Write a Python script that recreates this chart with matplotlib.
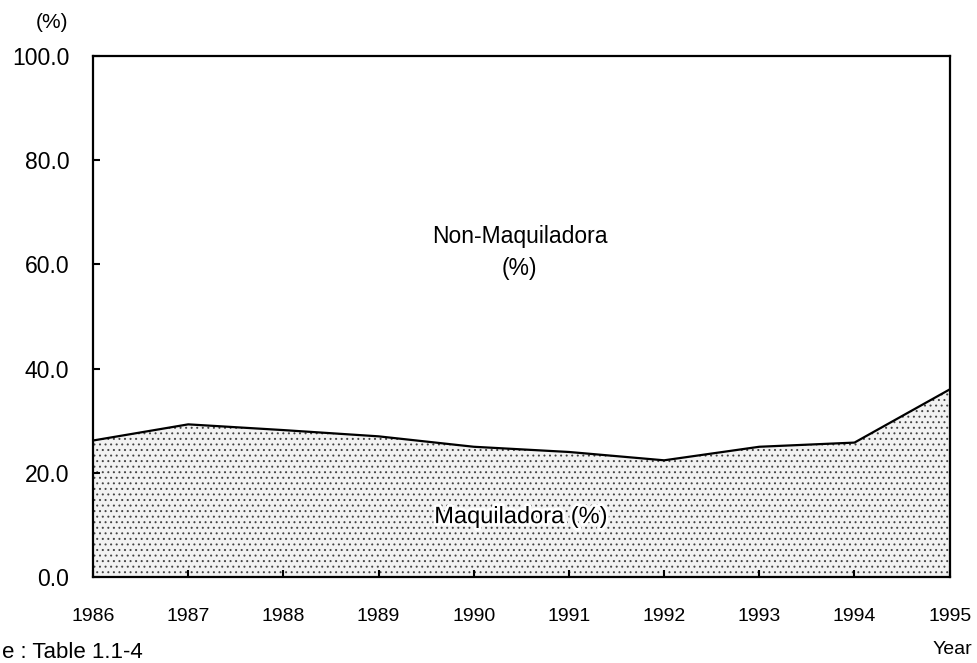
import matplotlib
matplotlib.use("Agg")
import matplotlib.pyplot as plt
import matplotlib.patheffects as pe

years = [1986, 1987, 1988, 1989, 1990, 1991, 1992, 1993, 1994, 1995]
maquiladora = [26.2, 29.3, 28.2, 27.0, 25.0, 24.0, 22.4, 25.0, 25.8, 36.0]
y_ticks = [0, 20, 40, 60, 80, 100]

plt.rcParams["font.family"] = ["Liberation Sans", "DejaVu Sans"]
plt.rcParams["hatch.linewidth"] = 0.7
plt.rcParams["hatch.color"] = "#444444"

fig = plt.figure(figsize=(9.77, 6.63), dpi=100)
ax = fig.add_axes([0.0952, 0.1297, 0.8768, 0.7858])

ax.fill_between(years, 0, maquiladora, facecolor="#f2f2f2", hatch="...", linewidth=0)
ax.plot(years, maquiladora, color="black", linewidth=1.6)

ax.set_xlim(years[0], years[-1])
ax.set_ylim(0, 100)
ax.set_xticks(years)
ax.set_xticklabels([str(y) for y in years], fontsize=14)
ax.set_yticks(y_ticks)
ax.set_yticklabels(["%.1f" % v for v in y_ticks], fontsize=16.5)
ax.tick_params(direction="in", length=5, width=1.5, colors="black")
ax.tick_params(axis="x", pad=22)
ax.tick_params(axis="y", pad=17)
for s in ax.spines.values():
    s.set_linewidth(1.6)

ax.text(1990.48, 62.3, "Non-Maquiladora\n(%)", ha="center", va="center",
        fontsize=16.5, linespacing=1.5)
t = ax.text(1990.5, 11.5, "Maquiladora (%)", ha="center", va="center",
            fontsize=17, fontweight="medium")
t.set_path_effects([pe.withStroke(linewidth=4, foreground="white")])

fig.text(52 / 977, 1 - 23 / 663, "(%)", ha="center", va="center", fontsize=15)
fig.text(952 / 977, 1 - 650 / 663, "Year", ha="center", va="center", fontsize=14)
fig.text(2 / 977, 1 - 652 / 663, "e : Table 1.1-4", ha="left", va="center", fontsize=16)

fig.savefig("out.png", dpi=100)
